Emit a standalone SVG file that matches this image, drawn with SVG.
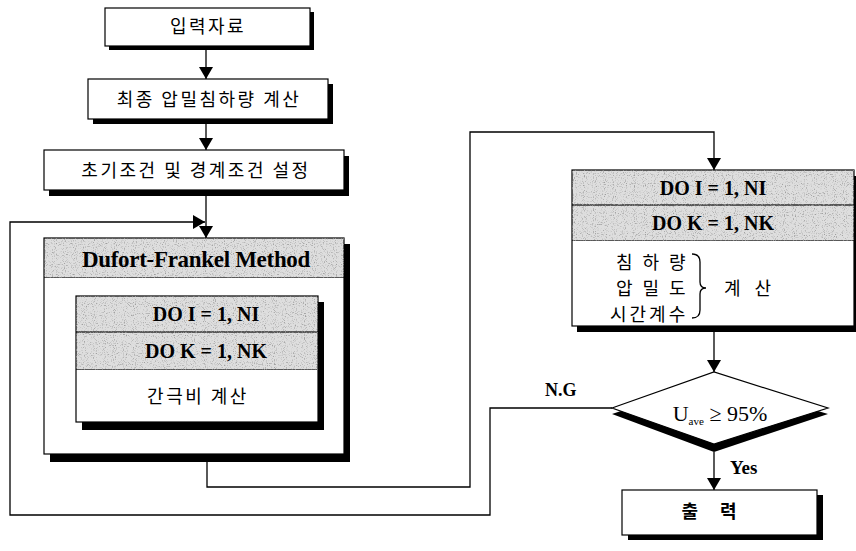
<svg xmlns="http://www.w3.org/2000/svg" width="856" height="551" viewBox="0 0 856 551">
<style>
.box{fill:#fff;stroke:#000;stroke-width:1.2}
.gray{fill:#dedede;stroke:#000;stroke-width:1.2;filter:url(#speck)}
.sh{fill:#000}
.ln{fill:none;stroke:#000;stroke-width:1.3}
.kr{font-family:"Noto Sans CJK KR","Noto Sans",sans-serif;font-size:18px;fill:#000;text-anchor:middle;letter-spacing:2.5px}
.en{font-family:"Liberation Serif",serif;font-weight:bold;font-size:20px;fill:#000;text-anchor:middle}
</style>
<defs>
<marker id="ah" viewBox="0 0 12 14" refX="12" refY="7" markerWidth="12" markerHeight="14" orient="auto" markerUnits="userSpaceOnUse">
<path d="M0,0 L12,7 L0,14 Z" fill="#000"/>
</marker>
<filter id="speck" x="0" y="0" width="100%" height="100%">
<feTurbulence type="fractalNoise" baseFrequency="0.9" numOctaves="1" seed="4" result="n"/>
<feColorMatrix in="n" type="matrix" values="0 0 0 0 0.35  0 0 0 0 0.35  0 0 0 0 0.35  4 0 0 0 -2.1" result="dots"/>
<feMerge result="m"><feMergeNode in="SourceGraphic"/><feMergeNode in="dots"/></feMerge>
<feComposite in="m" in2="SourceAlpha" operator="in"/>
</filter>
</defs>
<rect width="856" height="551" fill="#fff"/>

<g id="connectors">
<line class="ln" x1="206" y1="50" x2="206" y2="79" marker-end="url(#ah)"/>
<line class="ln" x1="206" y1="124" x2="206" y2="150" marker-end="url(#ah)"/>
<line class="ln" x1="206" y1="196" x2="206" y2="238" marker-end="url(#ah)"/>
<polyline class="ln" points="612,408 490,408 490,515 10,515 10,222 205,222" marker-end="url(#ah)"/>
<polyline class="ln" points="207,461 207,487 470,487 470,132 714,132 714,170" marker-end="url(#ah)"/>
<line class="ln" x1="714" y1="332" x2="714" y2="372" marker-end="url(#ah)"/>
<line class="ln" x1="714" y1="452" x2="714" y2="490" marker-end="url(#ah)"/>
<text x="545" y="396" font-family="Liberation Serif,serif" font-weight="bold" font-size="18" fill="#000">N.G</text>
<text x="730" y="474" font-family="Liberation Serif,serif" font-weight="bold" font-size="19" fill="#000">Yes</text>
</g>

<g id="input">
<rect class="sh" x="109" y="12" width="205" height="38"/>
<rect class="box" x="105" y="8" width="205" height="38"/>
<text class="kr" x="208" y="33">입력자료</text>
</g>

<g id="final-settlement">
<rect class="sh" x="93" y="84" width="240" height="40"/>
<rect class="box" x="88" y="79" width="240" height="40"/>
<text class="kr" x="209" y="106">최종 압밀침하량 계산</text>
</g>

<g id="conditions">
<rect class="sh" x="49" y="156" width="300" height="40"/>
<rect class="box" x="44" y="150" width="300" height="40"/>
<text class="kr" x="196" y="177">초기조건 및 경계조건 설정</text>
</g>

<g id="dufort">
<rect class="sh" x="50" y="244" width="300" height="218"/>
<rect class="box" x="44" y="238" width="300" height="216"/>
<rect class="gray" x="44" y="238" width="300" height="40"/>
<text class="en" x="196" y="267" style="font-size:23px;letter-spacing:-0.3px">Dufort-Frankel Method</text>
<rect class="sh" x="82" y="302" width="242" height="128"/>
<rect class="box" x="76" y="296" width="242" height="126"/>
<rect class="gray" x="76" y="296" width="242" height="36"/>
<rect class="gray" x="76" y="332" width="242" height="38"/>
<text class="en" x="206" y="321">DO I = 1, NI</text>
<text class="en" x="206" y="358">DO K = 1, NK</text>
<text class="kr" x="198" y="403">간극비 계산</text>
</g>

<g id="calc">
<rect class="sh" x="577" y="176" width="280" height="156"/>
<rect class="box" x="572" y="170" width="282" height="156"/>
<rect class="gray" x="572" y="170" width="282" height="35"/>
<rect class="gray" x="572" y="205" width="282" height="36"/>
<text class="en" x="713" y="195">DO I = 1, NI</text>
<text class="en" x="713" y="230">DO K = 1, NK</text>
<text class="kr" x="616" y="269" style="text-anchor:start;letter-spacing:10px">침하량</text>
<text class="kr" x="616" y="295" style="text-anchor:start;letter-spacing:10px">압밀도</text>
<text class="kr" x="610" y="321" style="text-anchor:start;letter-spacing:3px">시간계수</text>
<path class="ln" d="M692,254 Q700,254 700,262 L700,282 Q700,288 706,288 Q700,288 700,294 L700,310 Q700,318 692,318" stroke-width="1.6"/>
<text class="kr" x="724" y="295" style="text-anchor:start;letter-spacing:14px">계산</text>
</g>

<g id="decision">
<polygon points="612,414 714,380 828,414 714,452" fill="#000"/>
<polygon points="612,408 714,372 828,408 714,444" fill="#fff" stroke="#000" stroke-width="1.2"/>
<text x="720" y="421" font-family="Liberation Serif,serif" font-size="22" fill="#000" text-anchor="middle">U<tspan font-size="11" dy="4">ave</tspan><tspan dy="-4"> ≥ 95%</tspan></text>
</g>

<g id="output">
<rect class="sh" x="628" y="495" width="195" height="45"/>
<rect class="box" x="622" y="490" width="195" height="45"/>
<text class="kr" x="720" y="518" style="font-weight:bold;letter-spacing:22px;text-anchor:middle">출력</text>
</g>
</svg>
